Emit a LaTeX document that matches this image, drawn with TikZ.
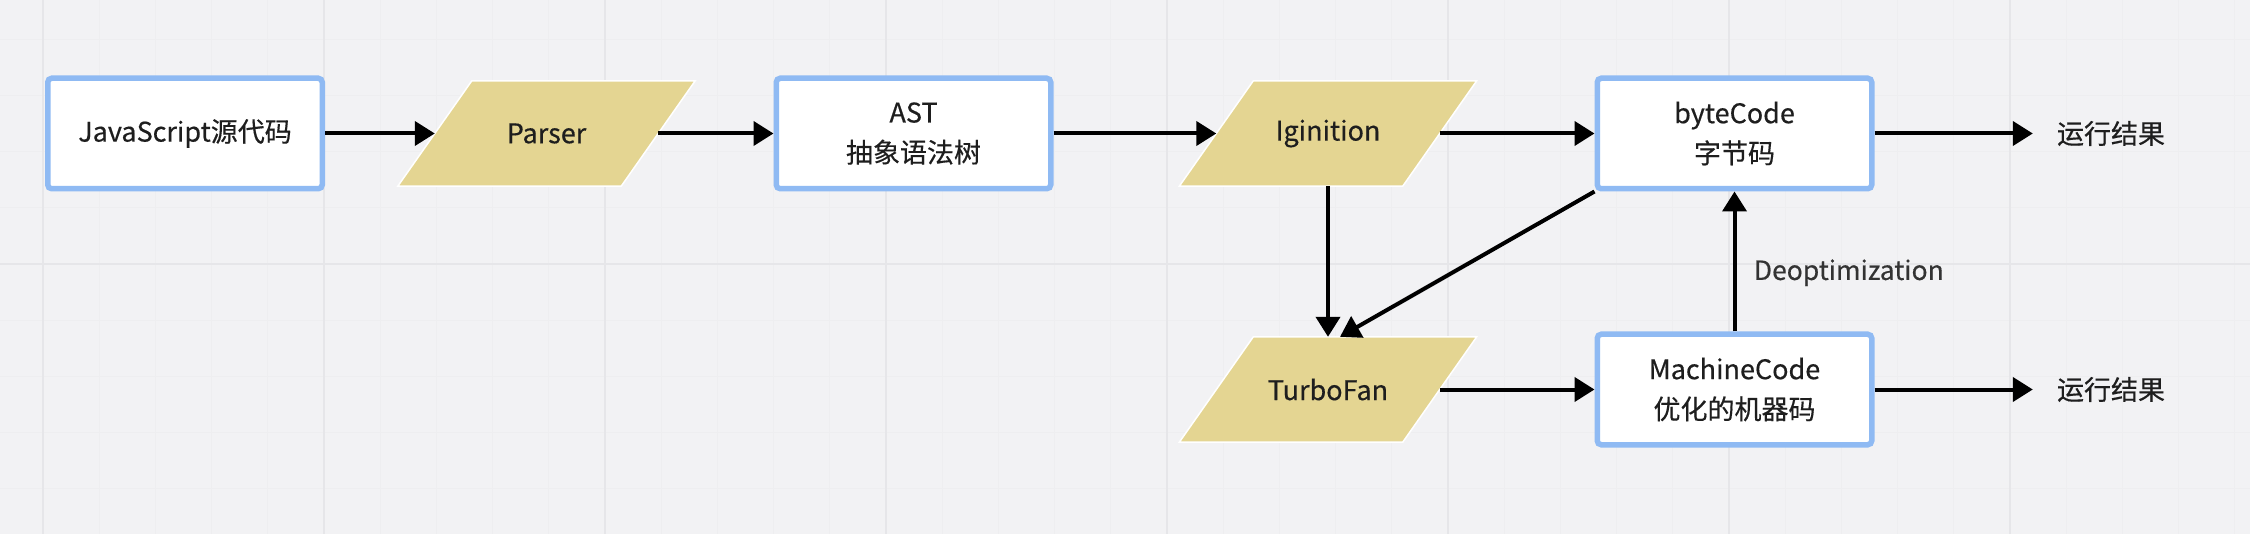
\documentclass[tikz,border=0pt]{standalone}
\usepackage{fontspec}
\setmainfont{Noto Sans CJK SC}[FakeBold=0.4]
\usetikzlibrary{arrows.meta,calc}
\pgfdeclarelayer{bg}
\pgfdeclarelayer{mid}
\pgfsetlayers{bg,mid,main}
\definecolor{bgc}{HTML}{F2F2F4}
\definecolor{gridmaj}{HTML}{E6E6E9}
\definecolor{gridmin}{HTML}{EEEEF0}
\definecolor{boxblue}{HTML}{8FBAF3}
\definecolor{khaki}{HTML}{E4D592}
\definecolor{txt}{HTML}{1E1E1E}
\definecolor{lbl}{HTML}{333333}
\newcommand\drawpara[1]{%
  \begin{pgfonlayer}{mid}
    \filldraw[fill=khaki, draw=white, line width=1.5pt]
      ([xshift=37pt]#1.north west) -- ([xshift=37pt]#1.north east)
      -- ([xshift=-37pt]#1.south east) -- ([xshift=-37pt]#1.south west) -- cycle;
  \end{pgfonlayer}}
\begin{document}
\begin{tikzpicture}[x=1pt,y=-1pt,
  txtfont/.style={font=\fontsize{27pt}{40pt}\selectfont, text=txt},
  box/.style={txtfont, draw=boxblue, line width=5.5pt, fill=white, rounded corners=4pt,
    minimum width=274.5pt, minimum height=110.5pt, align=center, inner sep=0pt},
  para/.style={txtfont, minimum width=223pt, minimum height=105pt, inner sep=0pt},
  res/.style={txtfont, inner ysep=3pt, inner xsep=24pt},
  arr/.style={line width=4pt, draw=black, -{Triangle[length=20pt,width=24pt]}},
  lblstyle/.style={font=\fontsize{26.5pt}{30pt}\selectfont, text=lbl}]
\useasboundingbox (0,0) rectangle (2250,534);
\begin{pgfonlayer}{bg}
  \fill[bgc] (0,0) rectangle (2250,534);
  \foreach \k in {-1,...,39} {
    \draw[gridmin, line width=1.2pt] ({43+56.2*\k},0) -- ({43+56.2*\k},534);
  }
  \foreach \k in {-4,...,4} {
    \draw[gridmin, line width=1.2pt] (0,{264+56.2*\k}) -- (2250,{264+56.2*\k});
  }
  \foreach \x in {43,324,605,886,1167,1448,1729,2010} {
    \draw[gridmaj, line width=2pt] (\x,0) -- (\x,534);
  }
  \draw[gridmaj, line width=2pt] (0,264) -- (2250,264);
\end{pgfonlayer}

\node[box] (js) at (185,133.5) {JavaScript源代码};
\node[para] (parser) at (546.5,133.5) {Parser};
\node[box] (ast) at (913.5,133.5) {AST\\抽象语法树};
\node[para] (ig) at (1328,133.5) {Iginition};
\node[box] (bc) at (1734.5,133.5) {byteCode\\字节码};
\node[res] (r1) at (2111,133.5) {运行结果};
\node[para] (tf) at (1328,389.5) {TurboFan};
\node[box] (mc) at (1734.5,389.5) {MachineCode\\优化的机器码};
\node[res] (r2) at (2111,389.5) {运行结果};

\drawpara{parser}
\drawpara{ig}
\drawpara{tf}

\draw[arr] (js.east) -- (parser.west);
\draw[arr] (parser.east) -- (ast.west);
\draw[arr] (ast.east) -- (ig.west);
\draw[arr] (ig.east) -- (bc.west);
\draw[arr] (bc.east) -- (r1.west);
\draw[arr] (ig.south) -- (tf.north);
\draw[arr] (bc.south west) -- ([xshift=12pt]tf.north);
\draw[arr] (mc.north) -- node[pos=0.42, anchor=west, xshift=14pt, lblstyle] (deopt) {Deoptimization} (bc.south);
\draw[arr] (tf.east) -- (mc.west);
\draw[arr] (mc.east) -- (r2.west);
\end{tikzpicture}
\end{document}
